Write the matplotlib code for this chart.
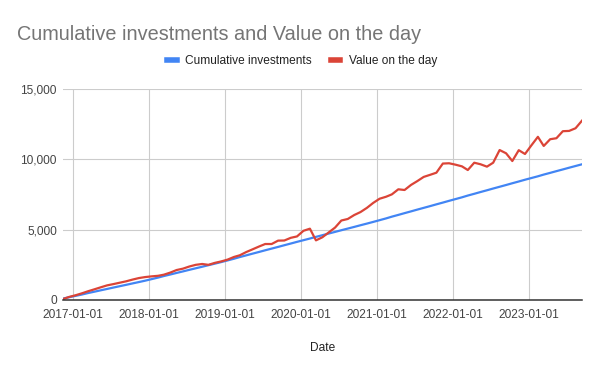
import matplotlib
matplotlib.use("Agg")
import matplotlib.pyplot as plt
import matplotlib.dates as mdates
from matplotlib.ticker import FuncFormatter
import pandas as pd

plt.rcParams['font.family'] = ['Liberation Sans', 'DejaVu Sans']

title = "Cumulative investments and Value on the day"
series_names = ["Cumulative investments", "Value on the day"]
x_label = "Date"

start_date = "2016-11-15"
n_points = 83

cumulative_investments = [
    100, 198, 296, 394, 492, 590, 688, 786, 884, 982, 1080, 1178, 1276, 1374,
    1484, 1594, 1704, 1814, 1924, 2034, 2144, 2254, 2364, 2474, 2584, 2694,
    2814, 2934, 3054, 3174, 3294, 3414, 3534, 3654, 3774, 3894, 4014, 4134,
    4252, 4370, 4488, 4606, 4724, 4842, 4960, 5078, 5196, 5314, 5432, 5550,
    5675, 5800, 5925, 6050, 6175, 6300, 6425, 6550, 6675, 6800, 6925, 7050,
    7175, 7300, 7425, 7550, 7675, 7800, 7925, 8050, 8175, 8300, 8425, 8550,
    8672, 8794, 8916, 9038, 9160, 9282, 9404, 9526, 9648,
]

value_on_day = [
    70, 220, 340, 480, 620, 760, 900, 1040, 1130, 1230, 1330, 1450, 1560,
    1630, 1680, 1720, 1800, 1950, 2130, 2230, 2380, 2500, 2560, 2500, 2640,
    2740, 2870, 3060, 3180, 3410, 3600, 3800, 3980, 3980, 4220, 4230, 4420,
    4520, 4920, 5070, 4240, 4460, 4800, 5150, 5650, 5760, 6040, 6250, 6550,
    6900, 7200, 7340, 7510, 7870, 7820, 8180, 8450, 8750, 8900, 9050, 9700,
    9720, 9620, 9500, 9240, 9760, 9650, 9480, 9760, 10660, 10430, 9880, 10650,
    10380, 11000, 11600, 10950, 11430, 11500, 12000, 12020, 12210, 12750,
]

x_ticks = ["2017-01-01", "2018-01-01", "2019-01-01", "2020-01-01",
           "2021-01-01", "2022-01-01", "2023-01-01"]
y_ticks = [0, 5000, 10000, 15000]

dates = pd.date_range(start_date, periods=n_points, freq=pd.DateOffset(months=1))

fig = plt.figure(figsize=(6.0, 3.71), dpi=100)
ax = fig.add_axes([63/600, 1-300/371, (582-63)/600, (300-89)/371])

blue = "#4285F4"
red = "#DB4437"
ax.plot(dates, cumulative_investments, color=blue, lw=1.6, label=series_names[0], zorder=3)
ax.plot(dates, value_on_day, color=red, lw=1.6, label=series_names[1], zorder=4)

ax.set_xlim(dates[0], dates[-1])
ax.set_ylim(0, 15000)
ax.set_xticks(pd.to_datetime(x_ticks))
ax.xaxis.set_major_formatter(mdates.DateFormatter("%Y-%m-%d"))
ax.set_yticks(y_ticks)
ax.yaxis.set_major_formatter(FuncFormatter(lambda v, p: f"{int(v):,}"))

ax.grid(True, color="#cccccc", lw=0.8)
ax.set_axisbelow(True)
for s in ["left", "right", "top"]:
    ax.spines[s].set_visible(False)
ax.spines["bottom"].set_color("#333333")
ax.spines["bottom"].set_linewidth(1.1)
ax.spines["bottom"].set_zorder(5)
ax.tick_params(axis="both", length=0, labelsize=8.6, colors="#444444")
ax.tick_params(axis="x", pad=6.5)
ax.tick_params(axis="y", pad=4.5)

ax.set_xlabel(x_label, fontsize=8.6, color="#222222", labelpad=15)

fig.text(17/600, 1-40/371, title, fontsize=14.3, color="#757575", ha="left", va="baseline")

fig.legend(loc="center", bbox_to_anchor=(302/600, 1-61/371), ncol=2, frameon=False,
           fontsize=8.6, handlelength=0.8, handletextpad=0.7, columnspacing=1.6,
           labelcolor="#222222")
for h in fig.legends[0].legend_handles:
    h.set_linewidth(4)

fig.savefig("out.png", dpi=100)
